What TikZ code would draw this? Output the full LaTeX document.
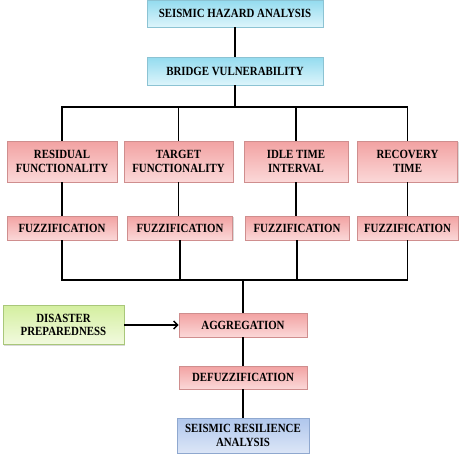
\documentclass[tikz,border=0pt]{standalone}
\usepackage{fontspec}
\setmainfont{Liberation Serif}[FakeStretch=0.87]
\usetikzlibrary{arrows.meta}
\usetikzlibrary{shadows}

\definecolor{cyantop}{HTML}{93DBEF}
\definecolor{cyanbot}{HTML}{DDF5FB}
\definecolor{cyanedge}{HTML}{8CC3D3}
\definecolor{pinktop}{HTML}{F2A2A2}
\definecolor{pinkbot}{HTML}{FBD8D8}
\definecolor{pinkedge}{HTML}{CF8E8E}
\definecolor{greentop}{HTML}{D4EFA0}
\definecolor{greenbot}{HTML}{F2FADF}
\definecolor{greenedge}{HTML}{A9C77A}
\definecolor{bluetop}{HTML}{AFC6EC}
\definecolor{bluebot}{HTML}{DCE6F7}
\definecolor{blueedge}{HTML}{8FA8CF}

\begin{document}
\begin{tikzpicture}[
		x=1pt, y=-1pt,
		line width=1.5pt,
		>={Straight Barb[length=4pt,width=8pt]},
		box/.style={draw, line width=0.6pt, align=center, inner sep=1pt,
			font=\bfseries\fontsize{12.5}{13.5}\selectfont,
			drop shadow={shadow xshift=1.2pt, shadow yshift=-1.2pt, opacity=0.3}},
		cyanbox/.style={box, draw=cyanedge, top color=cyantop, bottom color=cyanbot},
		pinkbox/.style={box, draw=pinkedge, top color=pinktop, bottom color=pinkbot},
		greenbox/.style={box, draw=greenedge, top color=greentop, bottom color=greenbot},
		bluebox/.style={box, draw=blueedge, top color=bluetop, bottom color=bluebot},
	]
		\useasboundingbox (0,0) rectangle (463,456);

		% stages
		\node[cyanbox, minimum width=176pt, minimum height=27pt] (hazard) at (235, 13.5) {SEISMIC HAZARD ANALYSIS};
		\node[cyanbox, minimum width=176pt, minimum height=28pt] (vuln) at (235, 71) {BRIDGE VULNERABILITY};

		\node[pinkbox, minimum width=110pt, minimum height=41pt] (resid) at (62, 161.5) {RESIDUAL\\FUNCTIONALITY};
		\node[pinkbox, minimum width=109pt, minimum height=41pt] (target) at (178.5, 161.5) {TARGET\\FUNCTIONALITY};
		\node[pinkbox, minimum width=104pt, minimum height=41pt] (idle) at (296, 161.5) {IDLE TIME\\INTERVAL};
		\node[pinkbox, minimum width=100pt, minimum height=41pt] (recov) at (407.5, 161.5) {RECOVERY\\TIME};

		\node[pinkbox, minimum width=110pt, minimum height=24pt] (fuzz1) at (62, 228) {FUZZIFICATION};
		\node[pinkbox, minimum width=105pt, minimum height=24pt] (fuzz2) at (180, 228) {FUZZIFICATION};
		\node[pinkbox, minimum width=104pt, minimum height=24pt] (fuzz3) at (297, 228) {FUZZIFICATION};
		\node[pinkbox, minimum width=101pt, minimum height=24pt] (fuzz4) at (407.5, 228) {FUZZIFICATION};

		\node[greenbox, minimum width=121pt, minimum height=39pt] (disaster) at (63.5, 325) {DISASTER\\PREPAREDNESS};
		\node[pinkbox, minimum width=128pt, minimum height=24pt] (aggr) at (243, 325) {AGGREGATION};
		\node[pinkbox, minimum width=128pt, minimum height=23pt] (defuzz) at (243, 377.5) {DEFUZZIFICATION};
		\node[bluebox, minimum width=132pt, minimum height=35pt] (result) at (243, 435.5) {SEISMIC RESILIENCE\\ANALYSIS};

		\coordinate (split) at (235, 107);
		\coordinate (join) at (243, 280);

		% links
		\draw (hazard) -- (vuln);
		\draw (vuln) -- (split);
		\draw (resid.north) |- (split) -| (recov.north);
		\draw (target.north) -- (target.north |- split);
		\draw (idle.north) -- (idle.north |- split);
		\draw (resid) -- (fuzz1);
		\draw (target.south) -- (target.south |- fuzz2.north);
		\draw (idle.south) -- (idle.south |- fuzz3.north);
		\draw (recov) -- (fuzz4);
		\draw (fuzz1.south) |- (join) -| (fuzz4.south);
		\draw (fuzz2.south) -- (fuzz2.south |- join);
		\draw (fuzz3.south) -- (fuzz3.south |- join);
		\draw (join) -- (aggr);
		\draw [->] (disaster) -- (aggr);
		\draw (aggr) -- (defuzz);
		\draw (defuzz) -- (result);
	\end{tikzpicture}
\end{document}
